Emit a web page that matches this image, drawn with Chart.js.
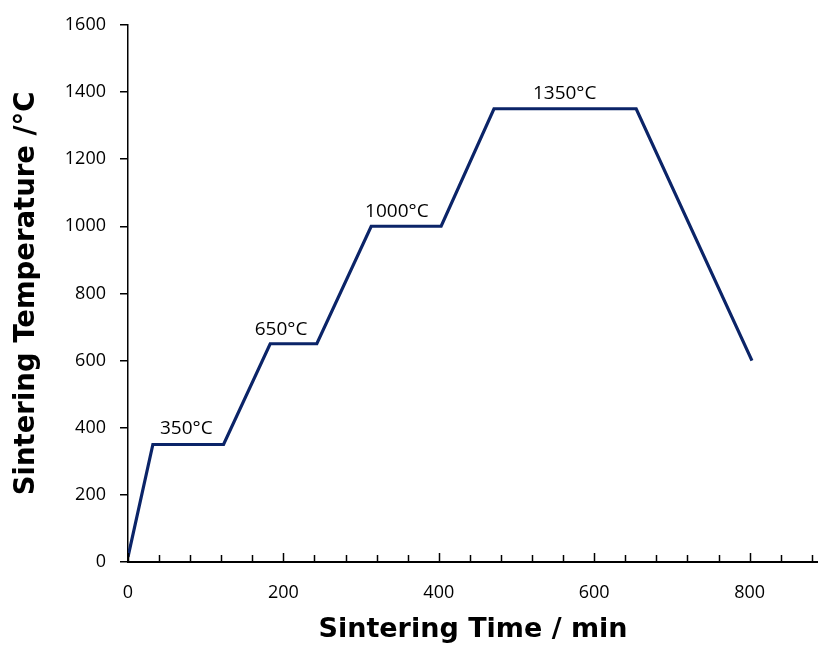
<!DOCTYPE html>
<html>
<head>
<meta charset="utf-8">
<script src="https://cdn.jsdelivr.net/npm/chart.js@4.4.1/dist/chart.umd.min.js"></script>
<style>
  html, body { margin: 0; padding: 0; background: #fff; }
  #wrap { width: 818px; height: 646px; }
</style>
</head>
<body>
<div id="wrap"><canvas id="myChart"></canvas></div>
<script>
// sintering profile
const timeMin = [0, 32, 123, 183, 243, 313, 403, 471, 654, 803];
const tempC = [15, 350, 350, 650, 650, 1000, 1000, 1350, 1350, 600];

// plateau labels and where they sit
const stepLabels = ['350°C', '650°C', '1000°C', '1350°C'];
const stepLabelX = [75, 197, 346, 562];
const stepLabelY = [397, 693, 1043, 1395];

const yTicks = [0, 200, 400, 600, 800, 1000, 1200, 1400, 1600];
const xTickStep = 40;
const xLabelStep = 200;

const lineColor = '#0b2468';

const insideTicks = {
    id: 'insideTicks',
    afterDraw(chart) {
        const ctx = chart.ctx;
        const x = chart.scales.x;
        const bottom = chart.chartArea.bottom;
        ctx.save();
        ctx.strokeStyle = '#000';
        ctx.lineWidth = 1.5;
        x.ticks.forEach(t => {
            const px = Math.round(x.getPixelForValue(t.value)) + 0.5;
            const len = t.value % xLabelStep === 0 ? 9 : 7;
            ctx.beginPath();
            ctx.moveTo(px, bottom);
            ctx.lineTo(px, bottom - len);
            ctx.stroke();
        });
        ctx.restore();
    }
};

const stepText = {
    id: 'stepText',
    afterDatasetsDraw(chart) {
        const ctx = chart.ctx;
        ctx.save();
        ctx.font = '19px "Open Sans"';
        ctx.fillStyle = '#000';
        ctx.textAlign = 'center';
        ctx.textBaseline = 'middle';
        stepLabels.forEach((txt, i) => {
            ctx.fillText(txt, chart.scales.x.getPixelForValue(stepLabelX[i]), chart.scales.y.getPixelForValue(stepLabelY[i]));
        });
        ctx.restore();
    }
};

const ctx = document.getElementById('myChart').getContext('2d');
const myChart = new Chart(ctx, {
    type: 'scatter',
    data: {
        datasets: [{
            data: timeMin.map((t, i) => ({ x: t, y: tempC[i] })),
            showLine: true,
            borderColor: lineColor,
            borderWidth: 3.2,
            pointRadius: 0,
            tension: 0
        }]
    },
    options: {
        responsive: true,
        maintainAspectRatio: false,
        animation: false,
        layout: { padding: { top: 22, right: 0, left: 0, bottom: 0 } },
        plugins: {
            legend: { display: false },
            tooltip: { enabled: false }
        },
        scales: {
            x: {
                type: 'linear',
                min: 0,
                max: 888,
                afterFit: function(scale) {
                    scale.height = 84;
                    scale.paddingLeft = 0;
                    scale.paddingRight = 0;
                },
                afterBuildTicks: function(scale) {
                    const ticks = [];
                    for (let v = 0; v <= scale.max; v += xTickStep) ticks.push({ value: v });
                    scale.ticks = ticks;
                },
                grid: { display: false, drawTicks: false },
                border: { display: true, color: '#000', width: 2 },
                ticks: {
                    autoSkip: false,
                    maxRotation: 0,
                    padding: 20,
                    color: '#000',
                    font: { family: 'Open Sans', size: 18 },
                    callback: function(value) {
                        return value % xLabelStep === 0 ? String(value) : '';
                    }
                },
                title: {
                    display: true,
                    text: 'Sintering Time / min',
                    color: '#000',
                    font: { family: 'DejaVu Sans', size: 27, weight: 'bold' },
                    padding: { top: 0, bottom: 0 }
                }
            },
            y: {
                min: 0,
                max: 1600,
                afterFit: function(scale) { scale.width = 128; },
                afterBuildTicks: function(scale) {
                    scale.ticks = yTicks.map(v => ({ value: v }));
                },
                grid: { drawOnChartArea: false, drawTicks: true, tickLength: 8, color: '#000', lineWidth: 1.5 },
                border: { display: true, color: '#000', width: 1.5 },
                ticks: {
                    padding: 14,
                    color: '#000',
                    font: { family: 'Open Sans', size: 18 },
                    callback: function(value) { return String(value); }
                },
                title: {
                    display: true,
                    text: 'Sintering Temperature /°C',
                    color: '#000',
                    font: { family: 'DejaVu Sans', size: 27.5, weight: 'bold' },
                    padding: { top: 10, bottom: 0 }
                }
            }
        }
    },
    plugins: [insideTicks, stepText]
});
</script>
</body>
</html>
